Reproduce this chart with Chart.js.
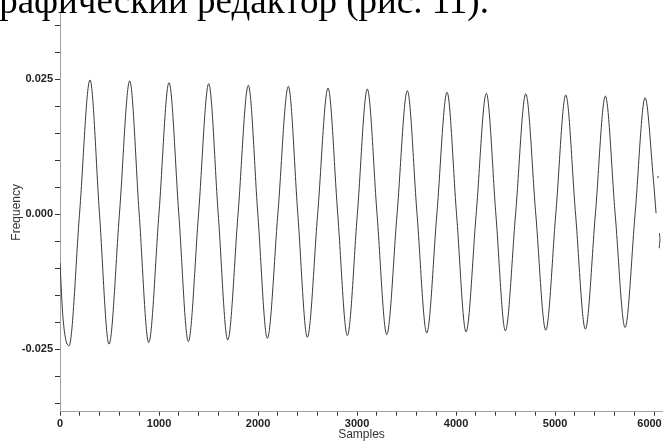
<!DOCTYPE html>
<html>
<head>
<meta charset="utf-8">
<script src="https://cdn.jsdelivr.net/npm/chart.js@4.4.1/dist/chart.umd.min.js"></script>
<style>
html,body{margin:0;padding:0;background:#fff;overflow:hidden}
#wrap{position:relative;width:663px;height:441px;overflow:hidden}
#cap{position:absolute;left:-16px;top:-18px;font:37px/37px "Liberation Serif","Times New Roman",serif;color:#000;white-space:nowrap;z-index:2}
canvas{position:absolute;left:0;top:0}
</style>
</head>
<body>
<div id="wrap">
<div id="cap">графический редактор (рис. 11).</div>
<canvas id="c" width="663" height="441"></canvas>
</div>
<script>
// sample positions and values (extrema + zero crossings)
const samples=[0,30,91,197,303,399,495,600,704,800,896,999,1101,1200,1296,1399,1502,1598,1694,1798,1902,1998,2094,2200,2306,2402,2498,2602,2707,2805,2902,3003,3104,3202,3300,3404,3508,3606,3704,3806,3909,4005,4101,4203,4306,4402,4498,4601,4704,4805,4906,5007,5108,5207,5306,5407,5508,5607,5707,5808,5909,5993,6020,6030,6039,6041,6048,6054,6061,6051];
const freq=[-0.0090,-0.0192,-0.0244,0,0.0249,0,-0.0241,0,0.0247,0,-0.0238,0,0.0244,0,-0.0236,0,0.0242,0,-0.0233,0,0.0239,0,-0.0230,0,0.0237,0,-0.0228,0,0.0234,0,-0.0225,0,0.0232,0,-0.0223,0,0.0229,0,-0.0220,0,0.0226,0,-0.0218,0,0.0224,0,-0.0216,0,0.0223,0,-0.0215,0,0.0221,0,-0.0213,0,0.0219,0,-0.0210,0,0.0216,0.0064,0.0002,null,0.0071,0.0067,null,-0.0035,-0.0048,-0.0063];
const xTicks=[0,200,400,600,800,1000,1200,1400,1600,1800,2000,2200,2400,2600,2800,3000,3200,3400,3600,3800,4000,4200,4400,4600,4800,5000,5200,5400,5600,5800,6000];
const yTicks=[-0.035,-0.030,-0.025,-0.020,-0.015,-0.010,-0.005,0,0.005,0.010,0.015,0.020,0.025,0.030,0.035];
const xLabels=[0,1000,2000,3000,4000,5000,6000];
const yLabels=[-0.025,0,0.025];

const tickFont={family:'"Liberation Sans",Arial,sans-serif',size:11,weight:'bold'};
const titleFont={family:'"Liberation Sans",Arial,sans-serif',size:12,lineHeight:1};
const near=(v,list)=>list.some(l=>Math.abs(l-v)<1e-9);
// last x label sits just inside the right edge
const xLabel=v=>!near(v,xLabels)?'':(v===6000?'6000   ':String(v));

new Chart(document.getElementById('c'),{
  type:'line',
  data:{datasets:[{data:samples.map((x,i)=>({x,y:freq[i]})),borderColor:'#3a3a3a',borderWidth:1,pointRadius:0,cubicInterpolationMode:'monotone',spanGaps:false}]},
  options:{
    responsive:false,animation:false,
    layout:{padding:{top:13,left:0,right:0,bottom:0}},
    plugins:{legend:{display:false},tooltip:{enabled:false}},
    scales:{
      x:{type:'linear',min:0,max:6090,
        afterBuildTicks:s=>{s.ticks=xTicks.map(v=>({value:v}));},
        afterFit:s=>{s.height=29.3;s.paddingLeft=0;s.paddingRight=0;},
        ticks:{autoSkip:false,maxRotation:0,padding:2,color:'#222',font:tickFont,callback:xLabel},
        grid:{drawOnChartArea:false,tickLength:4,tickColor:'#333'},
        border:{color:'#a0a0a0',width:1},
        title:{display:true,text:'Samples',color:'#333',font:titleFont,padding:{top:0,bottom:0}}},
      y:{type:'linear',min:-0.0366,max:0.0373,
        afterBuildTicks:s=>{s.ticks=yTicks.map(v=>({value:v}));},
        afterFit:s=>{s.width=60;},
        ticks:{autoSkip:false,padding:2,color:'#222',font:tickFont,callback:v=>near(v,yLabels)?v.toFixed(3):''},
        grid:{drawOnChartArea:false,tickLength:5,tickColor:'#333'},
        border:{color:'#a0a0a0',width:1},
        title:{display:true,text:'Frequency',color:'#333',font:{family:titleFont.family,size:12},padding:{top:9,bottom:0}}}
    }
  }
});
</script>
</body>
</html>
